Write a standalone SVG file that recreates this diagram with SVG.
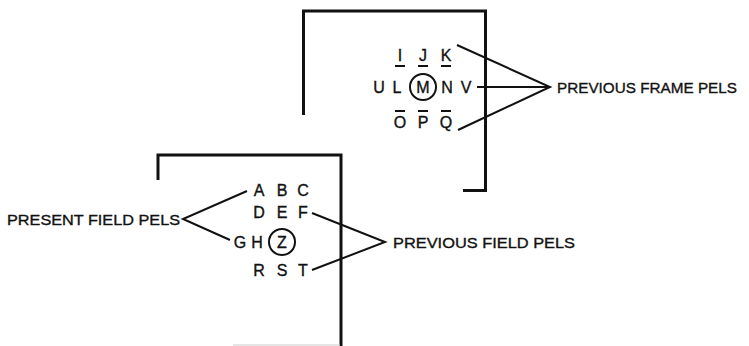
<svg xmlns="http://www.w3.org/2000/svg" width="749" height="346" viewBox="0 0 749 346">
<style>
.frame{fill:none;stroke:#111;stroke-width:3}
.ln{fill:none;stroke:#111;stroke-width:2}
.bar{stroke:#111;stroke-width:2}
.c{fill:none;stroke:#111;stroke-width:2}
.t{font-family:"Liberation Sans",Arial,sans-serif;font-size:16px;fill:#111;stroke:#111;stroke-width:0.35;text-anchor:middle}
.lab{font-family:"Liberation Sans",Arial,sans-serif;font-size:15.5px;fill:#111;stroke:#111;stroke-width:0.35}
</style>
<rect width="749" height="346" fill="#fff"/>
<g id="frame-top">
<path class="frame" d="M303.5 115 V11 H485.5 V190.5 H463"/>
</g>
<g id="frame-bottom">
<path class="frame" d="M158 180 V155 H341 V346"/>
<line x1="233" y1="345" x2="340" y2="345" stroke="#ccc" stroke-width="1"/>
</g>
<g id="grid-frame">
<text class="t" x="400" y="61">I</text>
<text class="t" x="423" y="61">J</text>
<text class="t" x="446" y="61">K</text>
<line class="bar" x1="395" y1="66" x2="405" y2="66"/>
<line class="bar" x1="418" y1="66" x2="428" y2="66"/>
<line class="bar" x1="441" y1="66" x2="451" y2="66"/>
<text class="t" x="379" y="93">U</text>
<text class="t" x="397" y="93">L</text>
<circle class="c" cx="423" cy="87" r="13"/>
<text class="t" x="423" y="93">M</text>
<text class="t" x="447" y="93">N</text>
<text class="t" x="466" y="93">V</text>
<line class="bar" x1="395" y1="111" x2="405" y2="111"/>
<line class="bar" x1="418" y1="111" x2="428" y2="111"/>
<line class="bar" x1="441" y1="111" x2="451" y2="111"/>
<text class="t" x="400" y="128">O</text>
<text class="t" x="423" y="128">P</text>
<text class="t" x="446" y="128">Q</text>
</g>
<g id="grid-field">
<text class="t" x="259" y="196">A</text>
<text class="t" x="282" y="196">B</text>
<text class="t" x="303" y="196">C</text>
<text class="t" x="259" y="218">D</text>
<text class="t" x="282" y="218">E</text>
<text class="t" x="303" y="218">F</text>
<text class="t" x="240" y="248">G</text>
<text class="t" x="257" y="248">H</text>
<circle class="c" cx="282" cy="242" r="13"/>
<text class="t" x="282" y="248">Z</text>
<text class="t" x="259" y="276">R</text>
<text class="t" x="282" y="276">S</text>
<text class="t" x="303" y="276">T</text>
</g>
<g id="label-previous-frame">
<text class="lab" x="557" y="92.5" textLength="180" lengthAdjust="spacingAndGlyphs">PREVIOUS FRAME PELS</text>
</g>
<g id="label-present-field">
<text class="lab" x="7" y="225" textLength="173" lengthAdjust="spacingAndGlyphs">PRESENT FIELD PELS</text>
</g>
<g id="label-previous-field">
<text class="lab" x="393" y="247.5" textLength="182" lengthAdjust="spacingAndGlyphs">PREVIOUS FIELD PELS</text>
</g>
<g id="connectors">
<polyline class="ln" points="457,45 550,87 458,130"/>
<line class="ln" x1="477" y1="87" x2="550" y2="87"/>
<polyline class="ln" points="247,191 183,219 230,240"/>
<polyline class="ln" points="312,213 385,242 312,270"/>
</g>
</svg>
